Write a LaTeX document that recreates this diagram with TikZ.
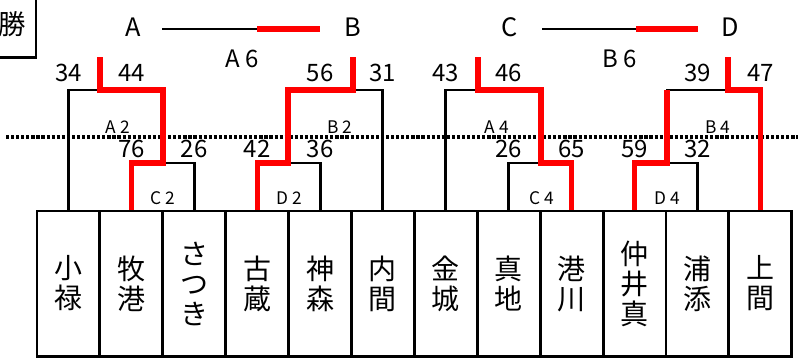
\documentclass[tikz,border=0pt]{standalone}
\usepackage{fontspec}
\setmainfont{Noto Sans CJK JP}
\usepackage{xcolor}
\usepackage{tikz}
\definecolor{winred}{RGB}{255, 0, 0}

\begin{document}
\begin{tikzpicture}[x=0.75pt, y=-0.75pt,
    team/.style={draw, line width=2.2pt, minimum width=47.2pt, minimum height=108.8pt, inner sep=0pt, align=center, font=\fontsize{21}{22.5}\selectfont},
    score/.style={inner sep=0pt, font=\fontsize{18}{20}\selectfont},
    matchlabel/.style={inner sep=0pt, font=\fontsize{13}{15}\selectfont},
    bk/.style={line width=2.2pt},
    rd/.style={line width=3.8pt, color=winred}]
    \useasboundingbox (0,0) rectangle (798,358);

    % Corner box
    \node[draw, line width=2.2pt, minimum width=35.2pt, minimum height=48.8pt, inner sep=0pt, font=\fontsize{20.5}{22}\selectfont] (win) at (12.5,24.5) {勝};

    % Dotted line
    \draw[line width=2.6pt, dash pattern=on 2.4pt off 1.4pt] (6,137) -- (798,137);

    % Teams
    \foreach \nm [count=\i] in {{小\\禄},{牧\\港},{さ\\つ\\き},{古\\蔵},{神\\森},{内\\間},{金\\城},{真\\地},{港\\川},{仲\\井\\真},{浦\\添},{上\\間}}
        \node[team] (t\i) at ({37+62.9*(\i-0.5)},283.5) {\nm};

    % Match points
    \coordinate (c2) at (163,163);
    \coordinate (a2) at (100,90);
    \coordinate (d2) at (288,163);
    \coordinate (b2) at (353,90);
    \coordinate (c4) at (541,163);
    \coordinate (a4) at (478,90);
    \coordinate (d4) at (667,163);
    \coordinate (b4) at (728,90);
    \coordinate (ab1) at (162,29);
    \coordinate (ab) at (257,29);
    \coordinate (ab2) at (320,29);
    \coordinate (cd1) at (542,29);
    \coordinate (cd) at (636,29);
    \coordinate (cd2) at (698,29);

    % Brackets
    \draw[bk] (t2.north) |- (c2) -| (t3.north);
    \draw[bk] (t1.north) |- (a2) -| (c2);
    \draw[bk] (t4.north) |- (d2) -| (t5.north);
    \draw[bk] (d2) |- (b2) -| (t6.north);
    \draw[bk] (t8.north) |- (c4) -| (t9.north);
    \draw[bk] (t7.north) |- (a4) -| (c4);
    \draw[bk] (t10.north) |- (d4) -| (t11.north);
    \draw[bk] (d4) |- (b4) -| (t12.north);
    \draw[bk] (ab1) -- (ab);
    \draw[bk] (cd1) -- (cd);

    % Winners
    \draw[rd] (t2.north) |- (c2) |- (a2) -- ++(0,-33);
    \draw[rd] (t4.north) |- (d2) |- (b2) -- ++(0,-33);
    \draw[rd] (t9.north) |- (c4) |- (a4) -- ++(0,-33);
    \draw[rd] (t10.north) |- (d4) -- (d4 |- b4);
    \draw[rd] (t12.north) |- (b4) -- ++(0,-33);
    \draw[rd] (ab) -- (ab2);
    \draw[rd] (cd) -- (cd2);

    % Finals
    \node[score, font=\fontsize{19}{21}\selectfont] (fA) at (133,27) {A};
    \node[score, font=\fontsize{19}{21}\selectfont] (fB) at (353,27) {B};
    \node[score, font=\fontsize{19}{21}\selectfont] (fC) at (510,27) {C};
    \node[score, font=\fontsize{19}{21}\selectfont] (fD) at (730,27) {D};
    \node[score] (m6a) at (242,59) {A 6};
    \node[score] (m6b) at (620,59) {B 6};

    % Scores
    \coordinate (upper) at (0,72.5);
    \coordinate (lower) at (0,149);
    \node[score] (s1) at (t1 |- upper) {34};
    \node[score] (s2) at (t2 |- upper) {44};
    \node[score] (s5) at (t5 |- upper) {56};
    \node[score] (s6) at (t6 |- upper) {31};
    \node[score] (s7) at (t7 |- upper) {43};
    \node[score] (s8) at (t8 |- upper) {46};
    \node[score] (s11) at (t11 |- upper) {39};
    \node[score] (s12) at (t12 |- upper) {47};
    \node[score] (r2) at (t2 |- lower) {76};
    \node[score] (r3) at (t3 |- lower) {26};
    \node[score] (r4) at (t4 |- lower) {42};
    \node[score] (r5) at (t5 |- lower) {36};
    \node[score] (r8) at (t8 |- lower) {26};
    \node[score] (r9) at (t9 |- lower) {65};
    \node[score] (r10) at (t10 |- lower) {59};
    \node[score] (r11) at (t11 |- lower) {32};

    % Match labels
    \node[matchlabel] (lA2) at (118,127) {A 2};
    \node[matchlabel] (lB2) at (340,127) {B 2};
    \node[matchlabel] (lC2) at (163,198) {C 2};
    \node[matchlabel] (lD2) at (289,198) {D 2};
    \node[matchlabel] (lA4) at (497,127) {A 4};
    \node[matchlabel] (lB4) at (718,127) {B 4};
    \node[matchlabel] (lC4) at (542,198) {C 4};
    \node[matchlabel] (lD4) at (667,198) {D 4};
\end{tikzpicture}
\end{document}
